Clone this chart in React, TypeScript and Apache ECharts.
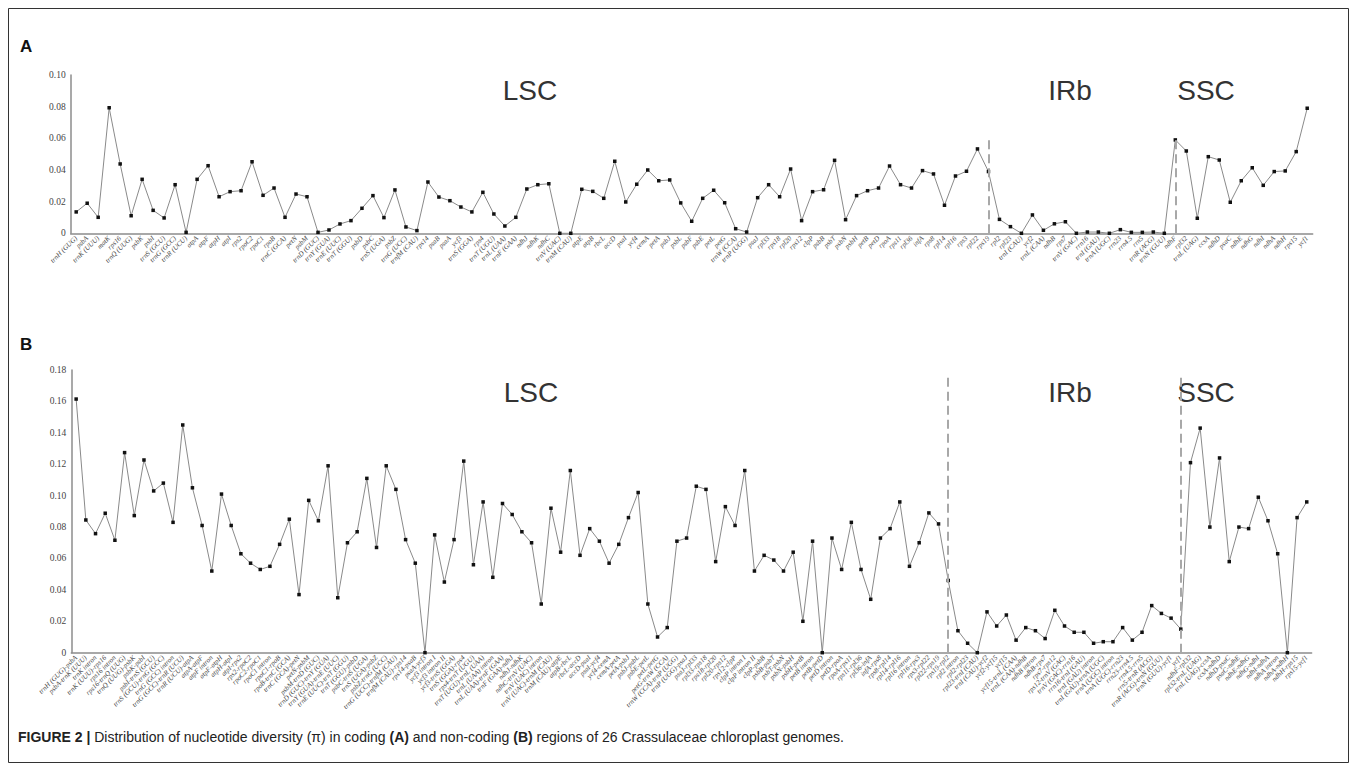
import React, { useEffect, useRef } from "react";
import * as echarts from "echarts";

const genesA = [
  "trnH (GUG)", "psbA", "trnK (UUU)", "matK", "rps16", "trnQ (UUG)", "psbK", "psbI", "trnS (GCU)", "trnG (GCC)",
  "trnR (UCU)", "atpA", "atpF", "atpH", "atpI", "rps2", "rpoC2", "rpoC1", "rpoB", "trnC (GCA)",
  "petN", "psbM", "trnD (GUC)", "trnY (GUA)", "trnE (UUC)", "trnT (GGU)", "psbD", "psbC", "trnS (UGA)", "psbZ",
  "trnG (UCC)", "trnfM (CAU)", "rps14", "psaB", "psaA", "ycf3", "trnS (GGA)", "rps4", "trnT (UGU)", "trnL (UAA)",
  "trnF (GAA)", "ndhJ", "ndhK", "ndhC", "trnV (UAC)", "trnM (CAU)", "atpE", "atpB", "rbcL", "accD",
  "psaI", "ycf4", "cemA", "petA", "psbJ", "psbL", "psbF", "psbE", "petL", "petG",
  "trnW (CCA)", "trnP (UGG)", "psaJ", "rpl33", "rps18", "rpl20", "rps12", "clpP", "psbB", "psbT",
  "psbN", "psbH", "petB", "petD", "rpoA", "rps11", "rpl36", "infA", "rps8", "rpl14",
  "rpl16", "rps3", "rpl22", "rps19", "rpl2", "rpl23", "trnI (CAU)", "ycf2", "trnL (CAA)", "ndhB",
  "rps7", "trnV (GAC)", "rrn16", "trnI (GAU)", "trnA (UGC)", "rrn23", "rrn4.5", "rrn5", "trnR (ACG)", "trnN (GUU)",
  "ndhF", "rpl32", "trnL (UAG)", "ccsA", "ndhD", "psaC", "ndhE", "ndhG", "ndhI", "ndhA",
  "ndhH", "rps15", "ycf1"
];

const piA = [
  0.0135, 0.019, 0.0101, 0.0793, 0.0438, 0.0111, 0.0341, 0.0145, 0.0097, 0.0307,
  0.0006, 0.0341, 0.0427, 0.0231, 0.0263, 0.0269, 0.0452, 0.024, 0.0286, 0.0101,
  0.0248, 0.0231, 0.0006, 0.0021, 0.0059, 0.008, 0.0158, 0.0238, 0.0099, 0.0274,
  0.004, 0.0017, 0.0324, 0.0229, 0.0206, 0.0166, 0.0135, 0.0259, 0.0122, 0.0046,
  0.0101, 0.028, 0.0307, 0.0313, 0, 0, 0.0278, 0.0265, 0.0221, 0.0455,
  0.0198, 0.031, 0.04, 0.0332, 0.0337, 0.0192, 0.0076, 0.0221, 0.0272, 0.0193,
  0.0029, 0.0008, 0.0225, 0.0307, 0.0231, 0.0406, 0.008, 0.0263, 0.0275, 0.0461,
  0.0086, 0.0238, 0.0269, 0.0286, 0.0425, 0.0307, 0.0286, 0.0396, 0.0375, 0.0177,
  0.0362, 0.0392, 0.0533, 0.039, 0.0088, 0.0042, 0, 0.0116, 0.0019, 0.006,
  0.0073, 0, 0.0008, 0.0008, 0, 0.0023, 0.0006, 0.0006, 0.0008, 0,
  0.059, 0.052, 0.0095, 0.0484, 0.0463, 0.0196, 0.0332, 0.0414, 0.0303, 0.039,
  0.0394, 0.0516, 0.079
];

const regionsB = [
  "trnH (GUG)-psbA", "psbA-trnK (UUU)", "trnK intron", "trnK (UUU)-rps16", "rps16 intron",
  "rps16-trnQ (UUG)", "trnQ (UUG)-psbK", "psbK-psbI", "psbI-trnS (GCU)", "trnS (GCU)-trnG (GCC)",
  "trnG (GCC) intron", "trnG (GCC)-trnR (UCU)", "trnR (UCU)-atpA", "atpA-atpF", "atpF intron",
  "atpF-atpH", "atpH-atpI", "atpI-rps2", "rps2-rpoC2", "rpoC2-rpoC1",
  "rpoC1 intron", "rpoC1-rpoB", "rpoB-trnC (GCA)", "trnC (GCA)-petN", "petN-psbM",
  "psbM-trnD (GUC)", "trnD (GUC)-trnY (GUA)", "trnY (GUA)-trnE (UUC)", "trnE (UUC)-trnT (GGU)", "trnT (GGU)-psbD",
  "psbC-trnS (UGA)", "trnS (UGA)-psbZ", "psbZ-trnG (UCC)", "trnG (UCC)-trnfM (CAU)", "trnfM (CAU)-rps14",
  "rps14-psaB", "psaA-ycf3", "ycf3 intron I", "ycf3 intron II", "ycf3-trnS (GGA)",
  "trnS (GGA)-rps4", "rps4-trnT (UGU)", "trnT (UGU)-trnL (UAA)", "trnL (UAA) intron", "trnL (UAA)-trnF (GAA)",
  "trnF (GAA)-ndhJ", "ndhJ-ndhK", "ndhC-trnV (UAC)", "trnV (UAC) intron", "trnV (UAC)-trnM (CAU)",
  "trnM (CAU)-atpE", "atpB-rbcL", "rbcL-accD", "accD-psaI", "psaI-ycf4",
  "ycf4-cemA", "cemA-petA", "petA-psbJ", "psbJ-psbL", "psbE-petL",
  "petL-petG", "petG-trnW (CCA)", "trnW (CCA)-trnP (UGG)", "trnP (UGG)-psaJ", "psaJ-rpl33",
  "rpl33-rps18", "rps18-rpl20", "rpl20-rps12", "rps12-clpP", "clpP intron I",
  "clpP intron II", "clpP-psbB", "psbB-psbT", "psbT-psbN", "psbN-psbH",
  "psbH-petB", "petB intron", "petB-petD", "petD intron", "petD-rpoA",
  "rpoA-rps11", "rps11-rpl36", "rpl36-infA", "infA-rps8", "rps8-rpl14",
  "rpl14-rpl16", "rpl16 intron", "rpl16-rps3", "rps3-rpl22", "rpl22-rps19",
  "rps19-rpl2", "rpl2 intron", "rpl2-rpl23", "rpl23-trnI (CAU)", "trnI (CAU)-ycf2",
  "ycf2-ycf15", "ycf15", "ycf15-trnL (CAA)", "trnL (CAA)-ndhB", "ndhB intron",
  "ndhB-rps7", "rps7-rps12", "rps12-trnV (GAC)", "trnV (GAC)-rrn16", "rrn16-trnI (GAU)",
  "trnI (GAU) intron", "trnI (GAU)-trnA (UGC)", "trnA (UGC) intron", "trnA (UGC)-rrn23", "rrn23-rrn4.5",
  "rrn4.5-rrn5", "rrn5-trnR (ACG)", "trnR (ACG)-trnN (GUU)", "trnN (GUU)-ycf1", "ycf1",
  "ndhF-rpl32", "rpl32-trnL (UAG)", "trnL (UAG)-ccsA", "ccsA-ndhD", "ndhD-psaC",
  "psaC-ndhE", "ndhE-ndhG", "ndhG-ndhI", "ndhI-ndhA", "ndhA intron",
  "ndhA-ndhH", "ndhH-rps15", "rps15-ycf1"
];

const piB = [
  0.1615, 0.0845, 0.0758, 0.0888, 0.0716, 0.1274, 0.0873, 0.1227, 0.103, 0.108,
  0.083, 0.145, 0.105, 0.081, 0.052, 0.101, 0.081, 0.063, 0.057, 0.053,
  0.055, 0.069, 0.085, 0.037, 0.097, 0.084, 0.119, 0.035, 0.07, 0.077,
  0.111, 0.067, 0.119, 0.104, 0.072, 0.057, 0, 0.075, 0.045, 0.072,
  0.122, 0.056, 0.096, 0.048, 0.095, 0.088, 0.077, 0.07, 0.031, 0.092,
  0.064, 0.116, 0.062, 0.079, 0.071, 0.057, 0.069, 0.086, 0.102, 0.031,
  0.01, 0.016, 0.071, 0.073, 0.106, 0.104, 0.058, 0.093, 0.081, 0.116,
  0.052, 0.062, 0.059, 0.052, 0.064, 0.02, 0.071, 0, 0.073, 0.053,
  0.083, 0.053, 0.034, 0.073, 0.079, 0.096, 0.055, 0.07, 0.089, 0.082,
  0.046, 0.014, 0.006, 0, 0.026, 0.017, 0.024, 0.008, 0.016, 0.014,
  0.009, 0.027, 0.017, 0.013, 0.013, 0.006, 0.007, 0.007, 0.016, 0.008,
  0.013, 0.03, 0.025, 0.022, 0.015, 0.121, 0.143, 0.08, 0.124, 0.058,
  0.08, 0.079, 0.099, 0.084, 0.063, 0, 0.086, 0.096
];

const boundariesA = ["rps19", "ndhF"];
const boundariesB = [regionsB[90], regionsB[114]];
const regionNames = ["LSC", "IRb", "SSC"];

const serif = "'Liberation Serif', 'DejaVu Serif', serif";
const sans = "'Liberation Sans', Arial, sans-serif";

function yFmt(v: number) {
  return v === 0 ? "0" : v.toFixed(2);
}

function dashLines(names: string[], top: number) {
  return {
    silent: true,
    symbol: "none",
    label: { show: false },
    lineStyle: { color: "#a8a8a8", width: 2, type: [9, 5] },
    data: names.map((n) => [{ coord: [n, 0] }, { coord: [n, top] }]),
  };
}

export default function App() {
  const ref = useRef<HTMLDivElement>(null);
  useEffect(() => {
    if (!ref.current) return;
    const chart = echarts.init(ref.current, undefined, { renderer: "svg" });
    const axisLine = { show: true, lineStyle: { color: "#8c8c8c", width: 1.5 } };
    const xLabel = {
      interval: 0,
      rotate: 45,
      fontSize: 7,
      fontStyle: "italic",
      fontFamily: serif,
      color: "#444",
      margin: 4,
    };
    const yLabel = { fontSize: 9.5, fontFamily: serif, color: "#444", margin: 5, formatter: yFmt };
    const regionText = (x: number, y: number, t: string) => ({
      type: "text",
      x,
      y,
      style: { text: t, fill: "#333", font: `28px ${sans}`, textAlign: "center", textVerticalAlign: "middle" },
    });
    chart.setOption({
      animation: false,
      backgroundColor: "#fff",
      grid: [
        { left: 70.7, right: 44.3, top: 75, height: 158.3 },
        { left: 71.3, right: 45.4, top: 370, height: 282.7 },
      ],
      xAxis: [
        { type: "category", gridIndex: 0, data: genesA, boundaryGap: true, axisLine, axisTick: { show: false }, axisLabel: xLabel },
        { type: "category", gridIndex: 1, data: regionsB, boundaryGap: true, axisLine, axisTick: { show: false }, axisLabel: xLabel },
      ],
      yAxis: [
        { type: "value", gridIndex: 0, min: 0, max: 0.1, interval: 0.02, axisLine, axisTick: { show: false }, splitLine: { show: false }, axisLabel: yLabel },
        { type: "value", gridIndex: 1, min: 0, max: 0.18, interval: 0.02, axisLine, axisTick: { show: false }, splitLine: { show: false }, axisLabel: yLabel },
      ],
      series: [
        {
          type: "line",
          xAxisIndex: 0,
          yAxisIndex: 0,
          data: piA,
          symbol: "rect",
          symbolSize: 3.5,
          itemStyle: { color: "#111" },
          lineStyle: { color: "#8a8a8a", width: 1 },
          markLine: dashLines(boundariesA, 0.062),
        },
        {
          type: "line",
          xAxisIndex: 1,
          yAxisIndex: 1,
          data: piB,
          symbol: "rect",
          symbolSize: 3.5,
          itemStyle: { color: "#111" },
          lineStyle: { color: "#8a8a8a", width: 1 },
          markLine: dashLines(boundariesB, 0.175),
        },
      ],
      graphic: [
        {
          type: "rect",
          shape: { x: 8.5, y: 8.5, width: 1340, height: 754 },
          style: { fill: "none", stroke: "#333", lineWidth: 1 },
        },
        { type: "text", x: 20, y: 38, style: { text: "A", fill: "#111", font: `bold 17px ${sans}` } },
        { type: "text", x: 20, y: 336, style: { text: "B", fill: "#111", font: `bold 17px ${sans}` } },
        regionText(530, 90, regionNames[0]),
        regionText(1070, 90, regionNames[1]),
        regionText(1206, 90, regionNames[2]),
        regionText(531, 392, regionNames[0]),
        regionText(1070, 392, regionNames[1]),
        regionText(1206, 392, regionNames[2]),
        {
          type: "text",
          x: 18,
          y: 730,
          style: {
            text: "{b|FIGURE 2 |} Distribution of nucleotide diversity (π) in coding {b|(A)} and non-coding {b|(B)} regions of 26 Crassulaceae chloroplast genomes.",
            font: `14px ${sans}`,
            fill: "#222",
            rich: { b: { fontWeight: "bold", fontSize: 14, fontFamily: sans, fill: "#222" } },
          },
        },
      ],
    });
    return () => chart.dispose();
  }, []);
  return (
    <div
      ref={ref}
      style={{ position: "fixed", left: 0, top: 0, width: 1357, height: 771, background: "#fff" }}
    />
  );
}
